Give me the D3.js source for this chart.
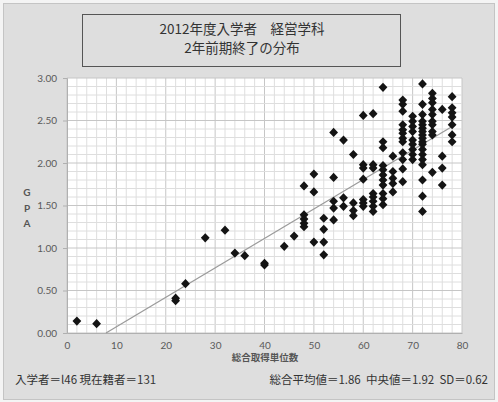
<!DOCTYPE html>
<html>
<head>
<meta charset="utf-8">
<script src="https://cdn.jsdelivr.net/npm/d3@7"></script>
<style>
  html, body { margin: 0; padding: 0; background: #ffffff; }
  svg { display: block; }
</style>
</head>
<body>
<svg id="chart" width="498" height="402"></svg>
<script>
// Credits earned (x) and GPA (y), one entry per student, grouped by credit count
const credits = [
  2, 6, 22, 22, 24, 28, 32, 34, 36, 40, 40, 44, 46,
  48, 48, 48, 48, 48,
  50, 50, 50,
  52, 52, 52, 52,
  54, 54, 54, 54, 54,
  56, 56, 56,
  58, 58, 58, 58,
  60, 60, 60, 60, 60, 60, 60,
  62, 62, 62, 62, 62, 62, 62, 62,
  64, 64, 64, 64, 64, 64, 64, 64, 64, 64, 64,
  66, 66, 66, 66, 66,
  68, 68, 68, 68, 68, 68, 68, 68, 68, 68, 68, 68,
  70, 70, 70, 70, 70, 70, 70, 70, 70,
  72, 72, 72, 72, 72, 72, 72, 72, 72, 72, 72, 72, 72, 72, 72, 72, 72, 72,
  74, 74, 74, 74, 74, 74, 74, 74, 74, 74,
  76, 76, 76, 76,
  78, 78, 78, 78, 78, 78, 78
];
const gpa = [
  0.14, 0.11, 0.41, 0.38, 0.58, 1.12, 1.21, 0.94, 0.91, 0.80, 0.82, 1.02, 1.14,
  1.73, 1.39, 1.34, 1.29, 1.25,
  1.87, 1.66, 1.07,
  1.35, 1.22, 1.07, 0.92,
  2.36, 1.83, 1.55, 1.47, 1.33,
  2.27, 1.59, 1.49,
  2.10, 1.53, 1.44, 1.38,
  2.56, 1.98, 1.94, 1.81, 1.57, 1.53, 1.49,
  2.58, 1.98, 1.94, 1.64, 1.60, 1.55, 1.49, 1.43,
  2.89, 2.25, 2.18, 1.97, 1.92, 1.86, 1.80, 1.74, 1.64, 1.58, 1.51,
  2.08, 1.90, 1.82, 1.76, 1.66,
  2.74, 2.69, 2.61, 2.45, 2.39, 2.35, 2.29, 2.25, 2.12, 2.04, 1.93, 1.78,
  2.55, 2.49, 2.43, 2.37, 2.27, 2.22, 2.16, 2.10, 2.04,
  2.93, 2.69, 2.57, 2.49, 2.45, 2.41, 2.37, 2.33, 2.29, 2.25, 2.22, 2.16, 2.10, 2.04, 1.98, 1.80, 1.61, 1.43,
  2.82, 2.76, 2.71, 2.63, 2.57, 2.49, 2.45, 2.37, 2.33, 1.89,
  2.63, 2.08, 1.94, 1.74,
  2.78, 2.65, 2.59, 2.54, 2.45, 2.33, 2.25
];
// Linear trend line endpoints (credits, GPA)
const trendX = [7.9, 78];
const trendY = [0, 2.43];

const xTicks = [0, 10, 20, 30, 40, 50, 60, 70, 80];
const yTicks = [0, 0.5, 1.0, 1.5, 2.0, 2.5, 3.0];

const titleLines = ["2012年度入学者　経営学科", "2年前期終了の分布"];
const yTitleChars = ["G", "P", "A"];
const xTitle = "総合取得単位数";
const noteLeft = "入学者＝l46 現在籍者＝131";
const noteRight = "総合平均値＝1.86  中央値＝1.92  SD＝0.62";

const svg = d3.select("#chart");
const W = 498, H = 402;
const plot = { left: 67, right: 462, top: 78, bottom: 333 };
const jpFont = "'Noto Sans CJK JP', 'Noto Sans', sans-serif";
const numFont = "Lato, 'Noto Sans', sans-serif";

// chart background and frame
svg.append("rect").attr("x", 0).attr("y", 0).attr("width", W).attr("height", H).attr("fill", "#f4f4f4");
svg.append("rect").attr("x", 3.5).attr("y", 3.5).attr("width", W - 7).attr("height", H - 6)
  .attr("fill", "#dedede").attr("stroke", "#c4c4c4");

const x = d3.scaleLinear().domain([0, 80]).range([plot.left, plot.right]);
const y = d3.scaleLinear().domain([0, 3]).range([plot.bottom, plot.top]);

// plot area
svg.append("rect").attr("x", plot.left).attr("y", plot.top)
  .attr("width", plot.right - plot.left).attr("height", plot.bottom - plot.top)
  .attr("fill", "#ffffff");

const grid = svg.append("g");
// minor grid every 2 credits / 0.1 GPA, major every 10 credits / 0.5 GPA
grid.selectAll("line.vx").data(d3.range(0, 81, 2)).join("line")
  .attr("x1", d => x(d)).attr("x2", d => x(d)).attr("y1", plot.top).attr("y2", plot.bottom)
  .attr("stroke", d => d % 10 === 0 ? "#c6c6c6" : "#dedede").attr("stroke-width", 1);
grid.selectAll("line.hy").data(d3.range(0, 31, 1).map(v => v / 10)).join("line")
  .attr("y1", d => y(d)).attr("y2", d => y(d)).attr("x1", plot.left).attr("x2", plot.right)
  .attr("stroke", (d, i) => i % 5 === 0 ? "#c6c6c6" : "#dedede").attr("stroke-width", 1);

// axes
const xAxis = svg.append("g").attr("transform", `translate(0,${plot.bottom})`)
  .call(d3.axisBottom(x).tickValues(xTicks).tickSize(0).tickPadding(9).tickFormat(d3.format("d")));
const yAxis = svg.append("g").attr("transform", `translate(${plot.left},0)`)
  .call(d3.axisLeft(y).tickValues(yTicks).tickSize(4).tickPadding(6).tickFormat(d3.format(".2f")));
[xAxis, yAxis].forEach(a => {
  a.select(".domain").attr("stroke", "#b0b0b0");
  a.selectAll(".tick line").attr("stroke", "#b0b0b0");
  a.selectAll("text").attr("font-family", numFont).attr("font-size", 10).attr("fill", "#5a5a5a");
});

// trend line
svg.append("line")
  .attr("x1", x(trendX[0])).attr("y1", y(trendY[0]))
  .attr("x2", x(trendX[1])).attr("y2", y(trendY[1]))
  .attr("stroke", "#9a9a9a").attr("stroke-width", 1.2);

// markers
const diamond = "M0,-4.6L4.4,0L0,4.6L-4.4,0Z";
svg.append("g").selectAll("path").data(credits.map((c, i) => [c, gpa[i]])).join("path")
  .attr("d", diamond)
  .attr("transform", d => `translate(${x(d[0])},${y(d[1])})`)
  .attr("fill", "#141414");

// title box
svg.append("rect").attr("x", 82.5).attr("y", 14.5).attr("width", 318).attr("height", 52)
  .attr("fill", "#dedede").attr("stroke", "#555555");
svg.append("g").selectAll("text").data(titleLines).join("text")
  .attr("x", 242).attr("y", (d, i) => 34 + i * 19)
  .attr("text-anchor", "middle")
  .attr("font-family", jpFont).attr("font-size", 13.5).attr("fill", "#333333")
  .text(d => d);

// vertical axis title
svg.append("g").selectAll("text").data(yTitleChars).join("text")
  .attr("x", 27).attr("y", (d, i) => 196 + i * 15.5)
  .attr("text-anchor", "middle")
  .attr("font-family", numFont).attr("font-weight", "bold").attr("font-size", 10).attr("fill", "#555555")
  .text(d => d);

// horizontal axis title
svg.append("text").attr("x", 265).attr("y", 361).attr("text-anchor", "middle")
  .attr("font-family", jpFont).attr("font-size", 9.5).attr("font-weight", "bold").attr("fill", "#555555")
  .text(xTitle);

// footnotes
svg.append("text").attr("x", 15).attr("y", 383.5)
  .attr("font-family", jpFont).attr("font-size", 11.5).attr("fill", "#333333").text(noteLeft);
svg.append("text").attr("x", 488).attr("y", 383.5).attr("text-anchor", "end")
  .attr("font-family", jpFont).attr("font-size", 11.5).attr("fill", "#333333")
  .attr("xml:space", "preserve").style("white-space", "pre").text(noteRight);
</script>
</body>
</html>
